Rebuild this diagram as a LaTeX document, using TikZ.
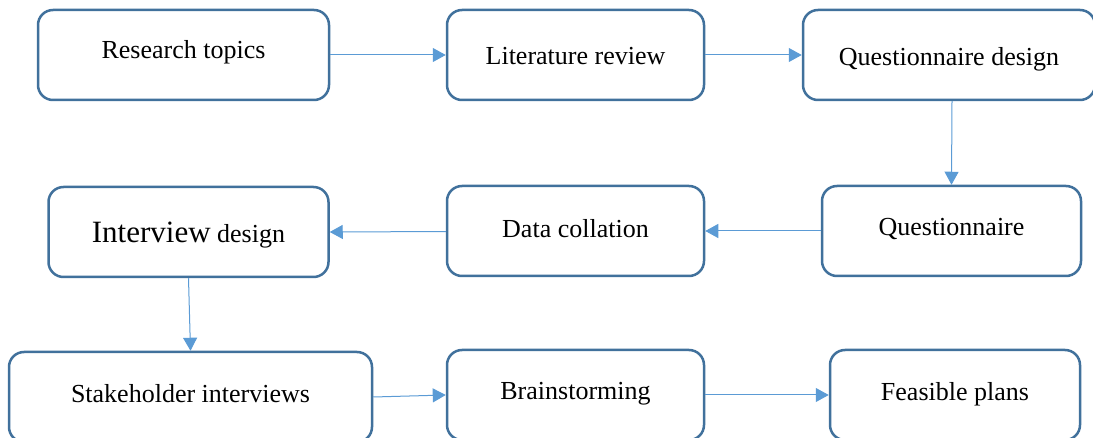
\documentclass[tikz,border=0pt]{standalone}
\usepackage{fontspec}
\setmainfont{Liberation Serif}
\usetikzlibrary{arrows.meta}
\definecolor{boxline}{HTML}{41719C}
\definecolor{arrowc}{HTML}{5B9BD5}
\tikzset{
  box/.style={draw=boxline, line width=2.5pt, rounded corners=15pt, fill=white,
    minimum height=90pt, inner sep=0pt, text height=19pt, text depth=6pt,
    font=\fontsize{26}{30}\selectfont, anchor=center},
  conn/.style={draw=arrowc, line width=1pt, -{Triangle[length=13pt,width=14pt]}}
}
\begin{document}
\begin{tikzpicture}[x=1pt,y=-1pt]
\useasboundingbox (0,0) rectangle (1093,438);
\clip (0,0) rectangle (1093,438);
\node[box, minimum width=291pt] (A) at (183.5,55) {\raisebox{2.5pt}{Research topics}};
\node[box, minimum width=257pt] (B) at (575.5,55) {\raisebox{-3pt}{Literature review}};
\node[box, minimum width=292pt] (C) at (949,55) {\raisebox{-4pt}{Questionnaire design}};
\node[box, minimum width=259pt] (D) at (951.5,231) {\raisebox{1.5pt}{Questionnaire}};
\node[box, minimum width=257pt] (E) at (575.5,231) {\raisebox{0pt}{Data collation}};
\node[box, minimum width=280pt] (F) at (188.5,232) {\raisebox{-4pt}{{\fontsize{31}{34}\selectfont Interview} design}};
\node[box, minimum width=363pt] (G) at (190.5,397) {\raisebox{1pt}{Stakeholder interviews}};
\node[box, minimum width=257pt] (H) at (575.5,395) {\raisebox{2pt}{Brainstorming}};
\node[box, minimum width=250pt] (I) at (955,395) {\raisebox{1pt}{Feasible plans}};
\draw[conn] (A) -- (B);
\draw[conn] (B) -- (C);
\draw[conn] (C.south) ++(3,0) coordinate (cs) (cs) -- (D.north);
\draw[conn] (D) -- (E);
\draw[conn] (E) -- (F.east);
\draw[conn] (F.south) -- (G.north);
\draw[conn] (G.east) -- (H.west);
\draw[conn] (H) -- (I);
\end{tikzpicture}
\end{document}
